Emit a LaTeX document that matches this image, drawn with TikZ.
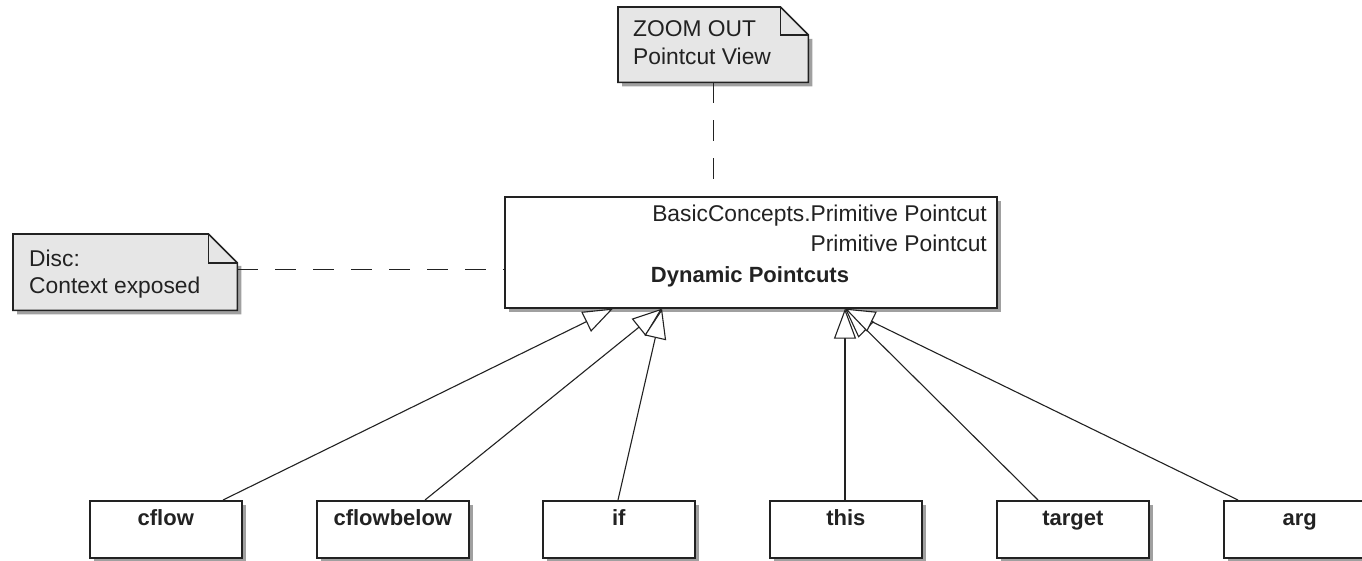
\documentclass[tikz,border=0pt]{standalone}
\usepackage{fontspec}
\setmainfont{Liberation Sans}
\usetikzlibrary{arrows.meta,shadows,calc}
\definecolor{notefill}{HTML}{E6E6E6}
\definecolor{shadowgray}{HTML}{A0A0A0}
\definecolor{ink}{HTML}{222222}
\begin{document}
\begin{tikzpicture}[x=1pt,y=-1pt,
  boxstyle/.style={draw=ink, line width=1.6pt, fill=white, rectangle, inner sep=0pt,
     anchor=north west, drop shadow={shadow xshift=4pt, shadow yshift=-4pt, fill=shadowgray, opacity=1}},
  childbox/.style={boxstyle, minimum width=152pt, minimum height=57pt},
  txt/.style={inner sep=0pt, text=ink, font=\fontsize{22.8}{26}\selectfont},
  btxt/.style={txt, font=\fontsize{22}{26}\selectfont\bfseries},
  notearea/.style={rectangle, inner sep=0pt, anchor=north west, draw=none},
  noteline/.style={draw=ink, line width=1.6pt, fill=notefill, line join=miter},
  noteshadow/.style={fill=shadowgray, draw=none},
  gen/.style={draw=ink, line width=1.1pt, -{Triangle[fill=white, length=30pt, width=22pt, line width=1.1pt]}},
  dashline/.style={draw=ink, line width=1pt, dash pattern=on 21pt off 17pt}
]
\useasboundingbox (0,0) rectangle (1362,561);
\clip (0,0) rectangle (1362,561);
\fill[white] (0,0) rectangle (1362,561);

% main class box
\node[boxstyle, minimum width=492pt, minimum height=111pt] (main) at (504,196) {};
\node[txt, anchor=base east] (l1) at (987,222) {BasicConcepts.Primitive Pointcut};
\node[txt, anchor=base east] (l2) at (987,252) {Primitive Pointcut};
\node[btxt, anchor=base] (l3) at (750,283) {Dynamic Pointcuts};

% notes
\node[notearea, minimum width=190pt, minimum height=75pt] (zoom) at (618,7) {};
\fill[noteshadow] ($(zoom.north east)+(4,32)$) -- ($(zoom.south east)+(4,4)$) -- ($(zoom.south west)+(4,4)$) -- ($(zoom.south west)+(4,0)$) -- (zoom.south east) -- ($(zoom.north east)+(0,32)$) -- cycle;
\path[noteline] (zoom.north west) -- ($(zoom.north east)+(-28,0)$) -- ($(zoom.north east)+(0,28)$) -- (zoom.south east) -- (zoom.south west) -- cycle;
\draw[draw=ink, line width=1.6pt] ($(zoom.north east)+(-28,0)$) -- ($(zoom.north east)+(-28,28)$) -- ($(zoom.north east)+(0,28)$);
\node[txt, anchor=base west] (z1) at (633,37) {ZOOM OUT};
\node[txt, anchor=base west] (z2) at (633,65) {Pointcut View};

\node[notearea, minimum width=224pt, minimum height=76pt] (disc) at (13,234) {};
\fill[noteshadow] ($(disc.north east)+(4,32)$) -- ($(disc.south east)+(4,4)$) -- ($(disc.south west)+(4,4)$) -- ($(disc.south west)+(4,0)$) -- (disc.south east) -- ($(disc.north east)+(0,32)$) -- cycle;
\path[noteline] (disc.north west) -- ($(disc.north east)+(-29,0)$) -- ($(disc.north east)+(0,29)$) -- (disc.south east) -- (disc.south west) -- cycle;
\draw[draw=ink, line width=1.6pt] ($(disc.north east)+(-29,0)$) -- ($(disc.north east)+(-29,29)$) -- ($(disc.north east)+(0,29)$);
\node[txt, anchor=base west] (d1) at (29,267) {Disc:};
\node[txt, anchor=base west] (d2) at (29,294) {Context exposed};

% note connectors
\draw[dashline] (zoom.south) -- (zoom.south |- main.north);
\coordinate (dstart) at ($(disc.north east)+(0,36)$);
\draw[dashline] (dstart) -- (dstart -| main.west);

% child boxes
\node[childbox] (cflow) at (89,500) {};
\node[childbox] (cflowbelow) at (316,500) {};
\node[childbox] (if) at (542,500) {};
\node[childbox] (this) at (769,500) {};
\node[childbox] (target) at (996,500) {};
\node[childbox] (arg) at (1223,500) {};
\foreach \n/\t in {cflow/cflow, cflowbelow/cflowbelow, if/if, this/this, target/target, arg/arg}{
  \node[btxt, anchor=base] (\n-label) at ($(\n.north)+(0,25)$) {\t};
}

% generalization connectors
\coordinate (tipA) at ($(main.south west)+(109,0)$);
\coordinate (tipB) at ($(main.south west)+(158,0)$);
\coordinate (tipC) at ($(main.south west)+(341,0)$);
\draw[gen] ($(cflow.north west)+(134,0)$) -- (tipA);
\draw[gen] ($(cflowbelow.north west)+(109,0)$) -- (tipB);
\draw[gen] ($(if.north west)+(76,0)$) -- (tipB);
\draw[gen] ($(this.north west)+(76,0)$) -- (tipC);
\draw[gen] ($(target.north west)+(42,0)$) -- (tipC);
\draw[gen] ($(arg.north west)+(15,0)$) -- (tipC);
\end{tikzpicture}
\end{document}
